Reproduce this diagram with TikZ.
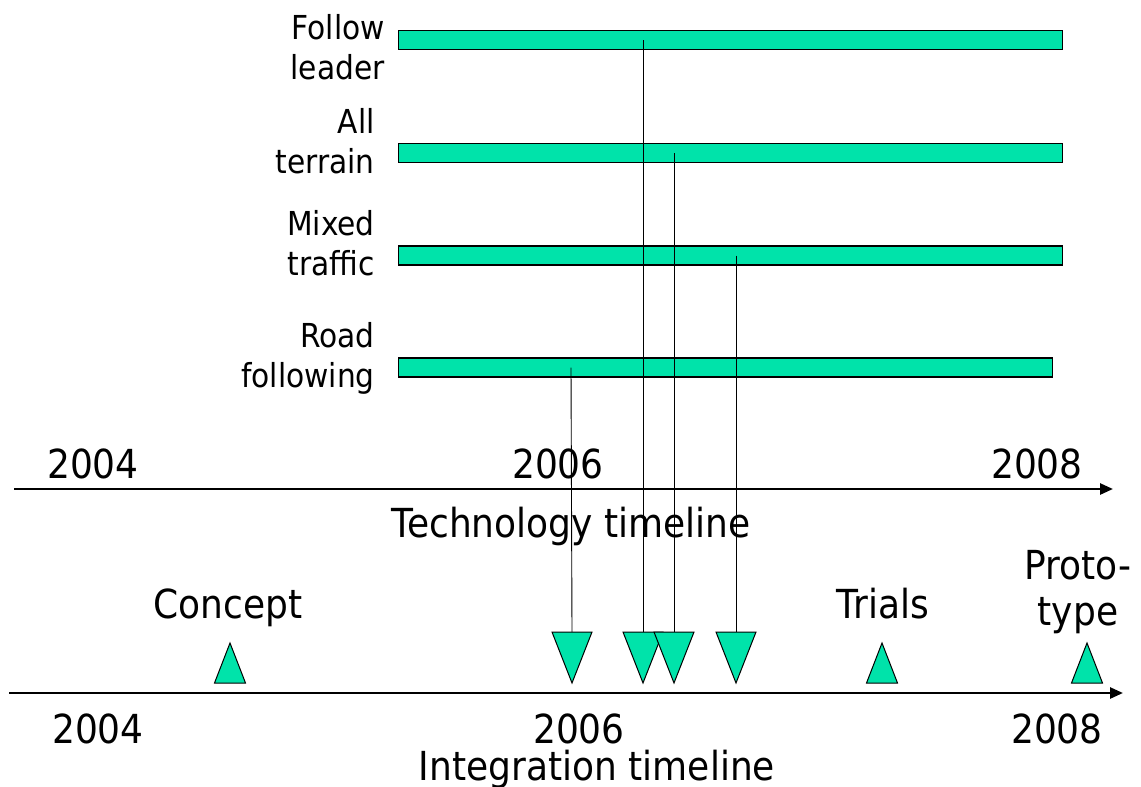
\documentclass[tikz,border=0pt]{standalone}
\usepackage{fontspec}
\setmainfont{DejaVu Sans}[FakeStretch=0.9]
\usetikzlibrary{arrows.meta,calc}
\definecolor{barfill}{RGB}{0,227,170}
\begin{document}
\begin{tikzpicture}[x=1pt,y=-1pt,
  bar/.style={draw=black, line width=1.2pt, fill=barfill, inner sep=0pt,
    anchor=west, minimum height=19pt},
  lbl/.style={font=\fontsize{33}{40}\selectfont, anchor=base east, inner sep=0pt},
  big/.style={font=\fontsize{40}{46}\selectfont, anchor=base, inner sep=0pt},
  axis/.style={line width=2.6pt, -{Triangle[length=13pt,width=11pt]}},
  link/.style={line width=0.9pt},
  tri/.style={draw=black, line width=1pt, fill=barfill, line join=miter}]
\useasboundingbox (0,0) rectangle (1141,787);

% technology bars
\node[bar, minimum width=664pt] (fl) at (398,40) {};
\node[bar, minimum width=664pt] (at) at (398,153) {};
\node[bar, minimum width=664pt] (mt) at (398,255.5) {};
\node[bar, minimum width=654pt] (rf) at (398,367.5) {};

% bar labels
\node[lbl] (fl1) at (385,39) {Follow};
\node[lbl] (fl2) at (385,79) {leader};
\node[lbl] (at1) at (375,133) {All};
\node[lbl] (at2) at (375,173) {terrain};
\node[lbl] (mt1) at (375,235) {Mixed};
\node[lbl] (mt2) at (375,275) {traffic};
\node[lbl] (rf1) at (375,347) {Road};
\node[lbl] (rf2) at (375,387) {following};

% technology timeline
\coordinate (ta0) at (14,489);
\coordinate (ta1) at (1113,489);
\draw[axis] (ta0) -- (ta1);
\node[big] (ty4) at (93,478) {2004};
\node[big] (ty6) at (558,478) {2006};
\node[big] (ty8) at (1037,478) {2008};
\node[big] (ttl) at (571,537) {Technology timeline};

% integration timeline
\coordinate (ia0) at (9,693);
\coordinate (ia1) at (1123,693);
\draw[axis] (ia0) -- (ia1);
\node[big] (iy4) at (98,743) {2004};
\node[big] (iy6) at (579,743) {2006};
\node[big] (iy8) at (1057,743) {2008};
\node[big] (itl) at (597,780) {Integration timeline};

% milestone labels
\node[big] (cpt) at (228,618) {Concept};
\node[big] (trl) at (883,618) {Trials};
\node[big, align=center] (pro) at (1078,625) {Proto-\\type};

% connector start points on the bars
\coordinate (s1) at (643,40);
\coordinate (s2) at (674,153);
\coordinate (s3) at (736,255.5);
\coordinate (s4) at (571,367.5);
% tops of the delivery markers
\coordinate (d1) at (643,632);
\coordinate (d2) at (674,632);
\coordinate (d3) at (736,632);
\coordinate (d4) at (572,632);

\draw[link] (s1) -- (d1);
\draw[link] (s2) -- (d2);
\draw[link] (s3) -- (d3);
\draw[link] (s4) -- (d4);

% delivery markers (pointing down)
\draw[tri] ($(d4)+(-20,0)$) -- ($(d4)+(20,0)$) -- ($(d4)+(0,51)$) -- cycle;
\draw[tri] ($(d1)+(-20,0)$) -- ($(d1)+(20,0)$) -- ($(d1)+(0,51)$) -- cycle;
\draw[tri] ($(d2)+(-20,0)$) -- ($(d2)+(20,0)$) -- ($(d2)+(0,51)$) -- cycle;
\draw[tri] ($(d3)+(-20,0)$) -- ($(d3)+(20,0)$) -- ($(d3)+(0,51)$) -- cycle;

% milestone markers (pointing up)
\coordinate (m1) at (230,643);
\coordinate (m2) at (882,643);
\coordinate (m3) at (1087,643);
\draw[tri] (m1) -- ($(m1)+(15.5,40)$) -- ($(m1)+(-15.5,40)$) -- cycle;
\draw[tri] (m2) -- ($(m2)+(15.5,40)$) -- ($(m2)+(-15.5,40)$) -- cycle;
\draw[tri] (m3) -- ($(m3)+(15.5,40)$) -- ($(m3)+(-15.5,40)$) -- cycle;
\end{tikzpicture}
\end{document}
